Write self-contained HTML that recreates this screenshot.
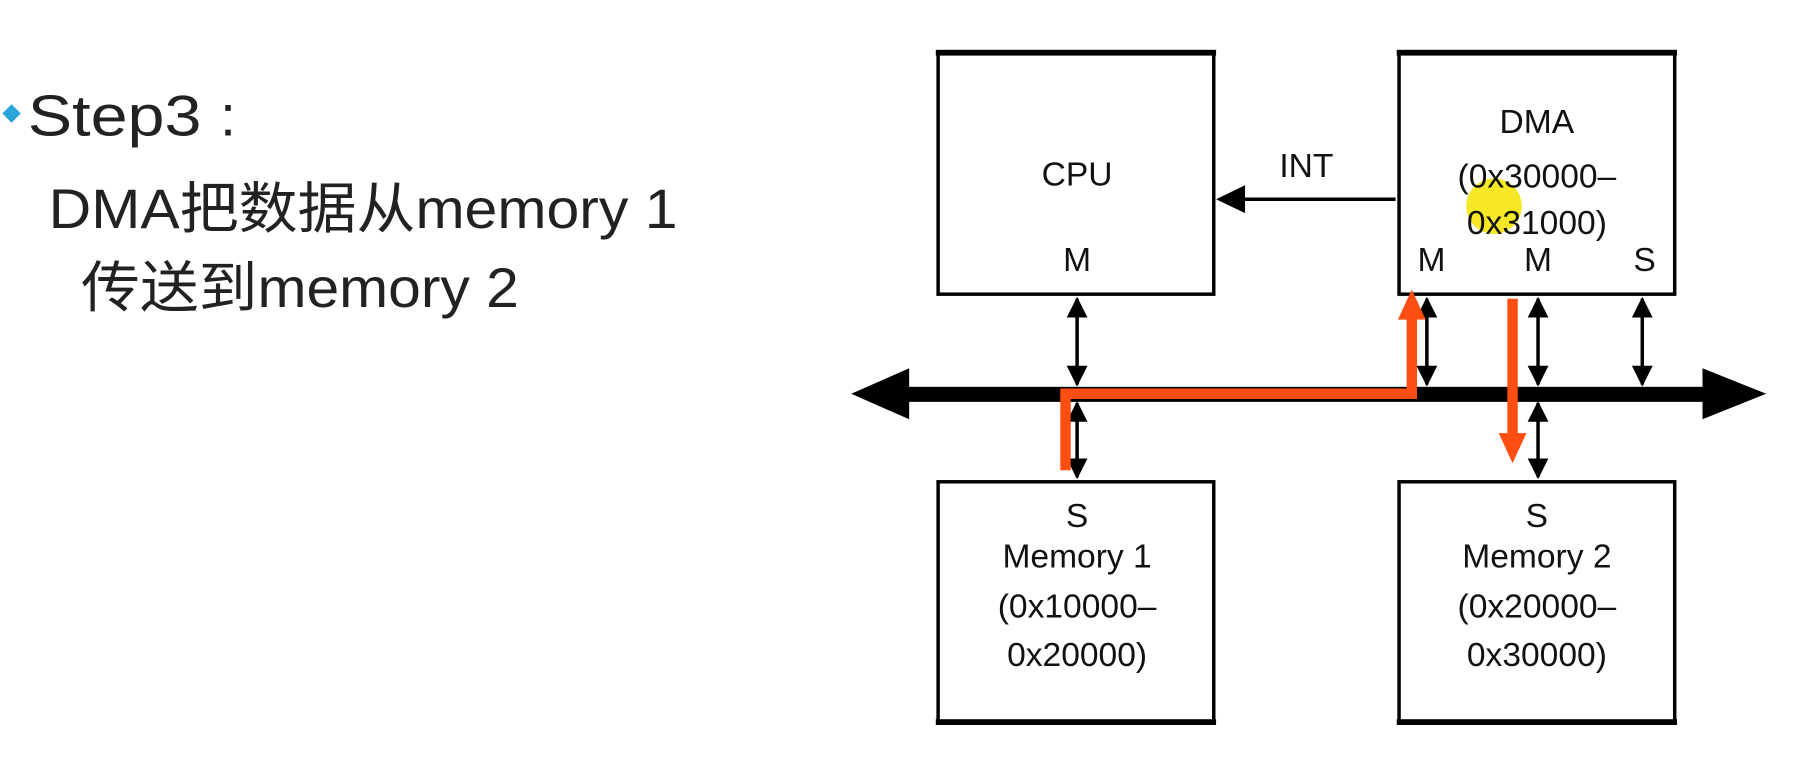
<!DOCTYPE html>
<html><head><style>html,body{margin:0;padding:0;background:#fff;overflow:hidden}</style></head>
<body>
<svg width="1816" height="766" viewBox="0 0 1568 661.4" preserveAspectRatio="none" xmlns="http://www.w3.org/2000/svg">
<defs>
<marker id="a" viewBox="0 0 10 10" refX="9" refY="5" markerWidth="6" markerHeight="6" orient="auto-start-reverse"><path d="M0,0L10,5L0,10z" fill="#000"/></marker>
</defs>
<path d="M2,98 l8,-8 l8,8 l-8,8z" fill="#2aa5d8"/>
<g font-family="Liberation Sans, Noto Sans CJK SC, sans-serif" fill="#222">
<text x="24" y="117" font-size="50" textLength="150" lengthAdjust="spacingAndGlyphs">Step3</text>
<text x="190" y="117" font-size="50">:</text>
<text x="42" y="197" font-size="48" textLength="543" lengthAdjust="spacingAndGlyphs">DMA把数据从memory 1</text>
<text x="70" y="265" font-size="48" textLength="378" lengthAdjust="spacingAndGlyphs">传送到memory 2</text>
</g>
<g fill="none" stroke="#000" stroke-width="3">
<rect x="810" y="46" width="238" height="208"/>
<rect x="1208" y="46" width="238" height="208"/>
<rect x="810" y="416" width="238" height="208"/>
<rect x="1208" y="416" width="238" height="208"/>
</g>
<rect x="808" y="43" width="242" height="5"/><rect x="1206" y="43" width="242" height="5"/>
<rect x="808" y="621" width="242" height="5"/><rect x="1206" y="621" width="242" height="5"/>
<rect x="770" y="334" width="700" height="13" fill="#000"/>
<path d="M735,340 L785,318 L785,362z M1525,340 L1470,318 L1470,362z" fill="#000"/>
<g stroke="#000" stroke-width="3" marker-start="url(#a)" marker-end="url(#a)">
<line x1="930" y1="258" x2="930" y2="332"/>
<line x1="930" y1="348" x2="930" y2="412"/>
<line x1="1232" y1="258" x2="1232" y2="332"/>
<line x1="1328" y1="258" x2="1328" y2="332"/>
<line x1="1418" y1="258" x2="1418" y2="332"/>
<line x1="1328" y1="348" x2="1328" y2="412"/>
</g>
<line x1="1205" y1="172" x2="1065" y2="172" stroke="#000" stroke-width="3"/>
<path d="M1050,172 L1075,160 L1075,184z" fill="#000"/>
<circle cx="1290" cy="178" r="24" fill="#f5e400" opacity="0.85"/>
<g font-family="Liberation Sans, sans-serif" font-size="29" fill="#111" text-anchor="middle">
<text x="930" y="160">CPU</text>
<text x="1128" y="153">INT</text>
<text x="930" y="234">M</text>
<text x="1327" y="115">DMA</text>
<text x="1327" y="162">(0x30000–</text>
<text x="1327" y="202">0x31000)</text>
<text x="1236" y="234">M</text><text x="1328" y="234">M</text><text x="1420" y="234">S</text>
<text x="930" y="455">S</text>
<text x="930" y="490">Memory 1</text>
<text x="930" y="533">(0x10000–</text>
<text x="930" y="575">0x20000)</text>
<text x="1327" y="455">S</text>
<text x="1327" y="490">Memory 2</text>
<text x="1327" y="533">(0x20000–</text>
<text x="1327" y="575">0x30000)</text>
</g>
<g fill="none" stroke="#ff4e12" stroke-width="9">
<path d="M920,406 V340 H1219 V272"/>
<path d="M1306,258 V375"/>
</g>
<path d="M1219,250 L1207,276 L1231,276z M1306,400 L1294,374 L1318,374z" fill="#ff4e12"/>
</svg>
</body></html>
